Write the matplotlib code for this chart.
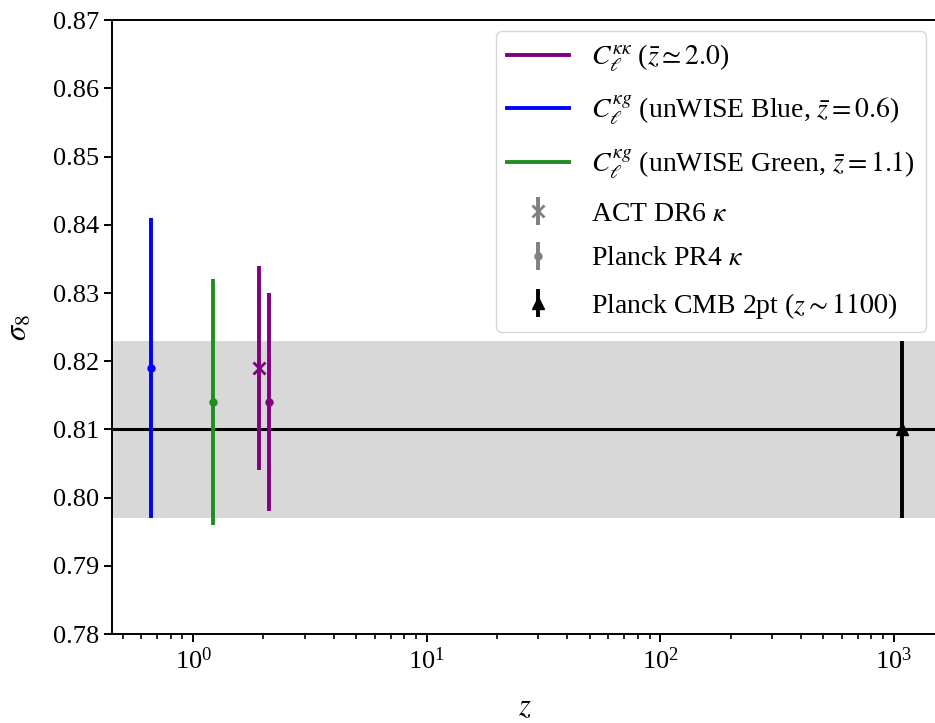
import numpy as np
import matplotlib
matplotlib.use("Agg")
import matplotlib.pyplot as plt
from matplotlib.lines import Line2D

plt.rcParams['font.family'] = ['Liberation Serif', 'DejaVu Serif']
plt.rcParams['mathtext.fontset'] = 'stix'
plt.rcParams['font.size'] = 19

# sigma_8 constraints
z_blue, s8_blue, err_blue = 0.66, 0.819, 0.022
z_green, s8_green, err_green = 1.21, 0.814, 0.018
z_act, s8_act, err_act = 1.92, 0.819, 0.015
z_pr4, s8_pr4, err_pr4 = 2.12, 0.814, 0.016
z_cmb, s8_cmb, err_cmb = 1080, 0.810, 0.013

labels = [
    r'$C_\ell^{\kappa\kappa}$ ($\bar{z}\simeq 2.0$)',
    r'$C_\ell^{\kappa g}$ (unWISE Blue, $\bar{z}=0.6$)',
    r'$C_\ell^{\kappa g}$ (unWISE Green, $\bar{z}=1.1$)',
    r'ACT DR6 $\kappa$',
    r'Planck PR4 $\kappa$',
    r'Planck CMB 2pt ($z\sim1100$)',
]

fig = plt.figure(figsize=(9.35, 7.23), dpi=100)
ax = fig.add_axes([0.12, 0.123, 0.882, 0.849])

ax.axhspan(s8_cmb - err_cmb, s8_cmb + err_cmb, color='gray', alpha=0.3, lw=0, zorder=0)
ax.axhline(s8_cmb, color='black', lw=2.2, zorder=1)

lw = 2.8
ax.errorbar(z_blue, s8_blue, yerr=err_blue, fmt='o', color='blue', ms=5, lw=lw, zorder=3)
ax.errorbar(z_green, s8_green, yerr=err_green, fmt='o', color='forestgreen', ms=5, lw=lw, zorder=3)
ax.errorbar(z_act, s8_act, yerr=err_act, fmt='x', color='purple', ms=9, mew=2, lw=lw, zorder=3)
ax.errorbar(z_pr4, s8_pr4, yerr=err_pr4, fmt='o', color='purple', ms=5, lw=lw, zorder=3)
ax.errorbar(z_cmb, s8_cmb, yerr=err_cmb, fmt='^', color='black', ms=8, lw=lw, zorder=3)

# legend proxies
h_kk = Line2D([], [], color='purple', lw=lw)
h_blue = Line2D([], [], color='blue', lw=lw)
h_green = Line2D([], [], color='forestgreen', lw=lw)
h_act = ax.errorbar([np.nan], [np.nan], yerr=[np.nan], fmt='x', color='gray', ms=9, mew=2, lw=lw)
h_pr4 = ax.errorbar([np.nan], [np.nan], yerr=[np.nan], fmt='o', color='gray', ms=5, lw=lw)
h_cmb = ax.errorbar([np.nan], [np.nan], yerr=[np.nan], fmt='^', color='black', ms=8, lw=lw)

ax.legend([h_kk, h_blue, h_green, h_act, h_pr4, h_cmb], labels,
          loc='upper right', fontsize=20, labelspacing=0.7,
          handlelength=2.2, borderaxespad=0.4)

ax.set_xscale('log')
ax.set_xlim(0.45, 1530)
ax.set_ylim(0.78, 0.87)
ax.set_yticks(np.arange(0.78, 0.8701, 0.01))
ax.set_xlabel(r'$z$', fontsize=22, labelpad=14)
ax.set_ylabel(r'$\sigma_8$', fontsize=22, labelpad=14)
for s in ax.spines.values():
    s.set_linewidth(1.4)
ax.tick_params(width=1.4, length=6)
ax.tick_params(which='minor', width=1.2, length=3.5)

fig.savefig('out.png', dpi=100)
